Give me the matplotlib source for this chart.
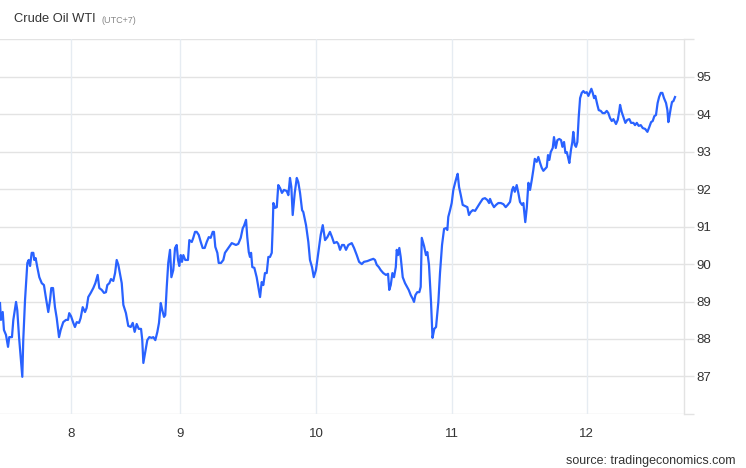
import matplotlib
matplotlib.use("Agg")
import matplotlib.pyplot as plt

# Session position (0 = start of day 8; day boundaries in tick_pos) and WTI price
t_pos = [-0.522, -0.515, -0.502, -0.493, -0.478, -0.463, -0.454, -0.434, -0.424, -0.404,
         -0.395, -0.382, -0.370, -0.358, -0.351, -0.338, -0.321, -0.311, -0.301, -0.289,
         -0.277, -0.270, -0.260, -0.248, -0.233, -0.215, -0.199, -0.184, -0.167, -0.154,
         -0.145, -0.132, -0.118, -0.105, -0.088, -0.076, -0.057, -0.037, -0.022, -0.013,
         0.000, 0.017, 0.029, 0.042, 0.059, 0.071, 0.086, 0.103, 0.115, 0.127,
         0.145, 0.164, 0.179, 0.196, 0.208, 0.226, 0.243, 0.257, 0.267, 0.282,
         0.294, 0.311, 0.324, 0.336, 0.348, 0.373, 0.385, 0.404, 0.421, 0.439,
         0.454, 0.468, 0.483, 0.498, 0.515, 0.524, 0.532, 0.546, 0.561, 0.576,
         0.593, 0.605, 0.620, 0.635, 0.647, 0.660, 0.671, 0.684, 0.693, 0.704,
         0.715, 0.728, 0.738, 0.752, 0.765, 0.777, 0.787, 0.796, 0.807, 0.816,
         0.826, 0.840, 0.860, 0.870, 0.888, 0.899, 0.912, 0.924, 0.939, 0.954,
         0.968, 0.983, 0.998, 1.013, 1.027, 1.042, 1.051, 1.061, 1.076, 1.086,
         1.103, 1.120, 1.132, 1.157, 1.182, 1.213, 1.230, 1.248, 1.263, 1.272,
         1.287, 1.296, 1.307, 1.316, 1.324, 1.333, 1.348, 1.365, 1.377, 1.390,
         1.402, 1.414, 1.426, 1.439, 1.451, 1.463, 1.476, 1.483, 1.488, 1.500,
         1.513, 1.524, 1.537, 1.551, 1.566, 1.586, 1.598, 1.610, 1.620, 1.630,
         1.645, 1.660, 1.671, 1.684, 1.699, 1.708, 1.728, 1.745, 1.757, 1.772,
         1.785, 1.801, 1.818, 1.836, 1.851, 1.868, 1.885, 1.904, 1.919, 1.934,
         1.954, 1.965, 1.978, 1.993, 2.007, 2.022, 2.039, 2.064, 2.081, 2.101,
         2.118, 2.138, 2.154, 2.179, 2.199, 2.223, 2.235, 2.248, 2.263, 2.277,
         2.296, 2.316, 2.331, 2.340, 2.351, 2.363, 2.375, 2.388, 2.395, 2.404,
         2.414, 2.424, 2.439, 2.456, 2.468, 2.483, 2.498, 2.513, 2.522, 2.532,
         2.546, 2.561, 2.571, 2.579, 2.596, 2.610, 2.620, 2.632, 2.647, 2.658,
         2.671, 2.684, 2.701, 2.713, 2.728, 2.743, 2.757, 2.767, 2.774, 2.787,
         2.799, 2.811, 2.824, 2.836, 2.843, 2.853, 2.866, 2.880, 2.897, 2.914,
         2.926, 2.939, 2.954, 2.971, 2.988, 3.007, 3.027, 3.044, 3.061, 3.074,
         3.081, 3.093, 3.110, 3.125, 3.142, 3.160, 3.179, 3.196, 3.211, 3.228,
         3.243, 3.252, 3.263, 3.277, 3.289, 3.301, 3.316, 3.326, 3.340, 3.351,
         3.363, 3.375, 3.388, 3.399, 3.410, 3.424, 3.436, 3.449, 3.461, 3.473,
         3.485, 3.498, 3.507, 3.517, 3.527, 3.542, 3.551, 3.564, 3.576, 3.590,
         3.603, 3.613, 3.625, 3.635, 3.645, 3.654, 3.664, 3.676, 3.686, 3.693,
         3.704, 3.713, 3.723, 3.733, 3.743, 3.755, 3.767, 3.779, 3.792, 3.804,
         3.816, 3.826, 3.836, 3.846, 3.855, 3.870, 3.880, 3.895, 3.909, 3.924,
         3.939, 3.951, 3.963, 3.976, 3.988, 4.000, 4.007, 4.020, 4.032, 4.037,
         4.049, 4.061, 4.076, 4.090, 4.105, 4.118, 4.135, 4.147, 4.160, 4.174,
         4.189, 4.204, 4.221, 4.238, 4.252, 4.265, 4.277, 4.289, 4.301, 4.313,
         4.324, 4.336, 4.348, 4.360, 4.375, 4.385, 4.392, 4.399, 4.410, 4.419,
         4.429, 4.441]

price = [88.96, 88.51, 88.72, 88.24, 88.11, 87.79, 88.05, 88.05, 88.51, 88.99,
         88.77, 88.05, 87.52, 86.99, 87.97, 89.04, 90.03, 90.11, 89.95, 90.30,
         90.30, 90.11, 90.16, 89.92, 89.65, 89.49, 89.44, 89.09, 88.72, 89.04,
         89.36, 89.36, 88.85, 88.56, 88.05, 88.24, 88.45, 88.51, 88.51, 88.69,
         88.61, 88.43, 88.32, 88.45, 88.43, 88.56, 88.85, 88.72, 88.83, 89.12,
         89.23, 89.36, 89.49, 89.71, 89.36, 89.31, 89.23, 89.25, 89.44, 89.49,
         89.60, 89.55, 89.76, 90.11, 89.98, 89.49, 88.91, 88.69, 88.35, 88.32,
         88.43, 88.19, 88.40, 88.27, 88.27, 87.97, 87.36, 87.65, 87.97, 88.05,
         88.03, 88.05, 87.97, 88.19, 88.43, 88.96, 88.77, 88.59, 88.64, 89.39,
         90.03, 90.38, 89.65, 89.84, 90.43, 90.51, 90.11, 89.95, 90.24, 90.06,
         90.24, 90.11, 90.11, 90.64, 90.59, 90.70, 90.86, 90.86, 90.78, 90.59,
         90.43, 90.43, 90.59, 90.72, 90.70, 90.86, 90.86, 90.46, 90.30, 90.03,
         90.03, 90.11, 90.30, 90.43, 90.56, 90.51, 90.54, 90.70, 90.96, 91.02,
         91.18, 90.72, 90.32, 90.19, 90.30, 89.92, 89.90, 89.65, 89.39, 89.12,
         89.52, 89.44, 89.76, 89.76, 90.19, 90.19, 90.30, 90.99, 91.63, 91.50,
         91.52, 92.11, 92.03, 91.90, 91.98, 91.95, 91.84, 92.30, 92.06, 91.31,
         91.90, 92.30, 92.19, 91.90, 91.44, 91.39, 91.04, 90.59, 90.11, 89.92,
         89.65, 89.84, 90.30, 90.78, 91.04, 90.64, 90.72, 90.86, 90.72, 90.56,
         90.59, 90.54, 90.38, 90.51, 90.51, 90.38, 90.51, 90.56, 90.43, 90.24,
         90.06, 90.00, 90.06, 90.08, 90.11, 90.14, 90.11, 89.98, 89.92, 89.84,
         89.76, 89.71, 89.74, 89.31, 89.44, 89.76, 89.65, 89.92, 90.38, 90.24,
         90.43, 90.19, 89.65, 89.49, 89.41, 89.31, 89.17, 89.07, 88.99, 89.17,
         89.25, 89.25, 89.39, 90.70, 90.48, 90.24, 90.32, 89.98, 88.99, 88.03,
         88.27, 88.32, 88.99, 89.76, 90.51, 90.94, 90.96, 90.91, 91.26, 91.44,
         91.63, 91.98, 92.17, 92.33, 92.41, 92.06, 91.84, 91.58, 91.55, 91.52,
         91.31, 91.39, 91.44, 91.42, 91.52, 91.63, 91.74, 91.76, 91.71, 91.63,
         91.74, 91.63, 91.52, 91.58, 91.63, 91.63, 91.60, 91.52, 91.58, 91.66,
         91.98, 92.06, 91.93, 92.11, 91.90, 91.66, 91.58, 91.63, 91.12, 91.50,
         92.17, 91.98, 92.25, 92.51, 92.81, 92.73, 92.86, 92.70, 92.57, 92.49,
         92.54, 92.59, 92.91, 92.78, 92.99, 93.10, 93.39, 93.10, 93.31, 93.34,
         93.31, 93.13, 93.26, 92.97, 92.99, 92.86, 92.70, 93.05, 93.26, 93.53,
         93.18, 93.13, 93.26, 93.93, 94.43, 94.57, 94.62, 94.57, 94.59, 94.49,
         94.59, 94.68, 94.57, 94.43, 94.49, 94.25, 94.11, 94.09, 94.03, 94.03,
         94.09, 94.03, 93.90, 93.82, 93.87, 93.79, 93.74, 93.85, 94.11, 94.25,
         94.06, 93.93, 93.77, 93.85, 93.87, 93.77, 93.77, 93.71, 93.77, 93.69,
         93.71, 93.63, 93.61, 93.53, 93.66, 93.79, 93.82, 93.95, 93.98, 94.30,
         94.46, 94.57, 94.57, 94.43, 94.30, 94.11, 93.79, 93.93, 94.17, 94.33,
         94.35, 94.46]

tick_pos = [0.002, 0.805, 1.805, 2.799, 3.792]
tick_labels = ["8", "9", "10", "11", "12"]
y_ticks = [86, 87, 88, 89, 90, 91, 92, 93, 94, 95, 96]

plt.rcParams["font.family"] = ["Liberation Sans", "DejaVu Sans"]

W, H = 746, 468
fig = plt.figure(figsize=(W / 100, H / 100), dpi=100)
fig.patch.set_facecolor("white")
ax = fig.add_axes([0, 1 - 413.9 / H, 684 / W, (413.9 - 39.35) / H])

ax.plot(t_pos, price, color="#2962ff", lw=1.6, solid_joinstyle="round", zorder=3)

ax.set_xlim(-0.522, 4.507)
ax.set_ylim(86, 96)

ax.set_xticks(tick_pos)
ax.set_xticklabels(tick_labels)
ax.yaxis.tick_right()
ax.set_yticks(y_ticks)
ax.set_yticklabels(["" if v in (86, 96) else str(v) for v in y_ticks])

ax.tick_params(axis="x", length=0, pad=10, labelsize=9.5, labelcolor="#333333")
ax.tick_params(axis="y", length=7, width=1, color="#e3e3e3", pad=2,
               labelsize=9.5, labelcolor="#333333")

for v in y_ticks:
    ax.axhline(v, color="#e3e3e3", lw=1, zorder=1)
for p in tick_pos:
    ax.axvline(p, color="#e6ecf2", lw=1, zorder=1)

for s in ["left", "top", "bottom"]:
    ax.spines[s].set_visible(False)
ax.spines["right"].set_color("#e3e3e3")
ax.spines["right"].set_linewidth(1)

fig.text(14 / W, 1 - 19 / H, "Crude Oil WTI", fontsize=9.3, color="#333333",
         va="center", ha="left")
fig.text(101 / W, 1 - 20.5 / H, "(UTC+7)", fontsize=6.5, color="#888888",
         va="center", ha="left")
fig.text(736 / W, 1 - 461 / H, "source: tradingeconomics.com", fontsize=9,
         color="#333333", va="center", ha="right")

fig.savefig("out.png", dpi=100, facecolor="white")
